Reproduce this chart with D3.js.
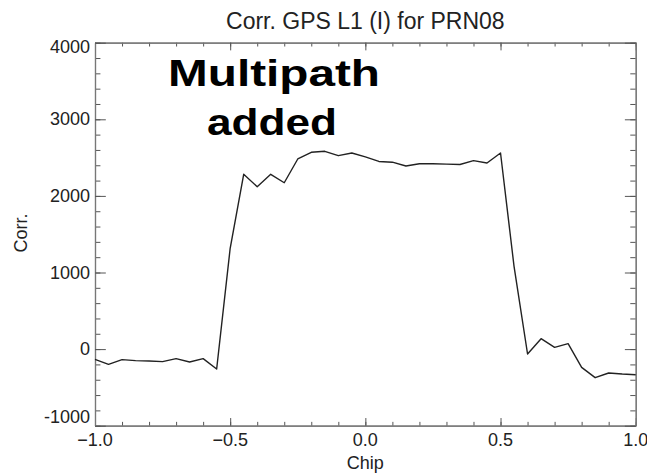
<!DOCTYPE html>
<html>
<head>
<meta charset="utf-8">
<script src="https://cdn.jsdelivr.net/npm/d3@7"></script>
<style>
  body { margin: 0; background: #fff; }
  text { font-family: "Liberation Sans", Arial, sans-serif; fill: #222; }
</style>
</head>
<body>
<div id="chart"></div>
<script>
var width = 647;
var height = 474;
var margin = ({ top: 42.7, right: 11.3, bottom: 48.3, left: 95 });

// Chip offsets, step 0.05
var chips = d3.range(41).map(i => -1 + i * 0.05);
// Correlation values
var corr = [-133, -199, -138, -151, -155, -164, -125, -168, -125, -260,
            1316, 2282, 2120, 2282, 2172, 2482, 2569, 2582, 2525, 2560,
            2510, 2450, 2440, 2390, 2420, 2420, 2415, 2410, 2460, 2430,
            2560, 1080, -64, 136, 23, 71, -238, -373, -312, -325, -334];

var xMajor = [-1.0, -0.5, 0.0, 0.5, 1.0];
var xMinor = d3.range(-1, 1.0001, 0.1);
var yMajor = [-1000, 0, 1000, 2000, 3000, 4000];
var yMinor = d3.range(-1000, 4001, 200);

var data = chips.map((c, i) => ({ x: c, y: corr[i] }));

var x = d3.scaleLinear()
    .domain([-1, 1])
    .range([margin.left, width - margin.right]);

var y = d3.scaleLinear()
    .domain([-1000, 4000])
    .range([height - margin.bottom, margin.top]);

var plotW = width - margin.left - margin.right;
var plotH = height - margin.top - margin.bottom;
// tick lengths like IDL: 2% of the plot size
var xTick = 0.02 * plotH, yTick = 0.02 * plotW;

var svg = d3.select("#chart")
    .append("svg")
    .attr("width", width)
    .attr("height", height);

function ticks(g) {
    g.select(".domain").attr("stroke", "#777").attr("stroke-width", 1.2);
    g.selectAll(".tick line").attr("stroke", "#555").attr("stroke-width", 1);
    g.selectAll(".tick text").remove();
}

// bottom & top
[[d3.axisBottom, height - margin.bottom], [d3.axisTop, margin.top]].forEach(function (a) {
    svg.append("g")
        .attr("transform", `translate(0,${a[1]})`)
        .call(a[0](x).tickValues(xMinor).tickSize(-xTick / 2).tickSizeOuter(0))
        .call(ticks);
    svg.append("g")
        .attr("transform", `translate(0,${a[1]})`)
        .call(a[0](x).tickValues(xMajor).tickSize(-xTick).tickSizeOuter(0))
        .call(ticks);
});

// left & right
[[d3.axisLeft, margin.left], [d3.axisRight, width - margin.right]].forEach(function (a) {
    svg.append("g")
        .attr("transform", `translate(${a[1]},0)`)
        .call(a[0](y).tickValues(yMinor).tickSize(-yTick / 2).tickSizeOuter(0))
        .call(ticks);
    svg.append("g")
        .attr("transform", `translate(${a[1]},0)`)
        .call(a[0](y).tickValues(yMajor).tickSize(-yTick).tickSizeOuter(0))
        .call(ticks);
});

// tick labels
svg.append("g")
    .selectAll("text")
    .data(xMajor)
    .enter()
    .append("text")
    .attr("x", d => x(d))
    .attr("y", 446)
    .attr("text-anchor", "middle")
    .style("font-size", "18px")
    .text(d => d3.format(".1f")(d));

// end labels sit inside the axis span, as in IDL output
svg.append("g")
    .selectAll("text")
    .data(yMajor)
    .enter()
    .append("text")
    .attr("x", margin.left - 5)
    .attr("y", d => y(d) + (d == 4000 ? 10 : d == -1000 ? -3 : 6))
    .attr("text-anchor", "end")
    .style("font-size", "18px")
    .text(d => d);

// the curve
var line = d3.line()
    .x(d => x(d.x))
    .y(d => y(d.y));

svg.append("path")
    .datum(data)
    .attr("fill", "none")
    .attr("stroke", "#222")
    .attr("stroke-width", 1.4)
    .attr("stroke-linejoin", "round")
    .attr("d", line);

// titles
svg.append("text")
    .attr("x", (margin.left + width - margin.right) / 2)
    .attr("y", 29)
    .attr("text-anchor", "middle")
    .style("font-size", "23px")
    .text("Corr. GPS L1 (I) for PRN08");

svg.append("text")
    .attr("x", (margin.left + width - margin.right) / 2)
    .attr("y", 469)
    .attr("text-anchor", "middle")
    .style("font-size", "18px")
    .text("Chip");

svg.append("text")
    .attr("transform", "translate(27,233) rotate(-90)")
    .attr("text-anchor", "middle")
    .style("font-size", "18px")
    .text("Corr.");

// annotation
var note = svg.append("g")
    .style("font-family", "Lato, sans-serif")
    .style("font-weight", "900")
    .style("font-size", "36px");

note.append("text")
    .attr("x", 274)
    .attr("y", 86)
    .attr("text-anchor", "middle")
    .attr("textLength", 212)
    .attr("lengthAdjust", "spacingAndGlyphs")
    .style("fill", "#000")
    .text("Multipath");

note.append("text")
    .attr("x", 272)
    .attr("y", 135)
    .attr("text-anchor", "middle")
    .attr("textLength", 130)
    .attr("lengthAdjust", "spacingAndGlyphs")
    .style("fill", "#000")
    .text("added");
</script>
</body>
</html>
